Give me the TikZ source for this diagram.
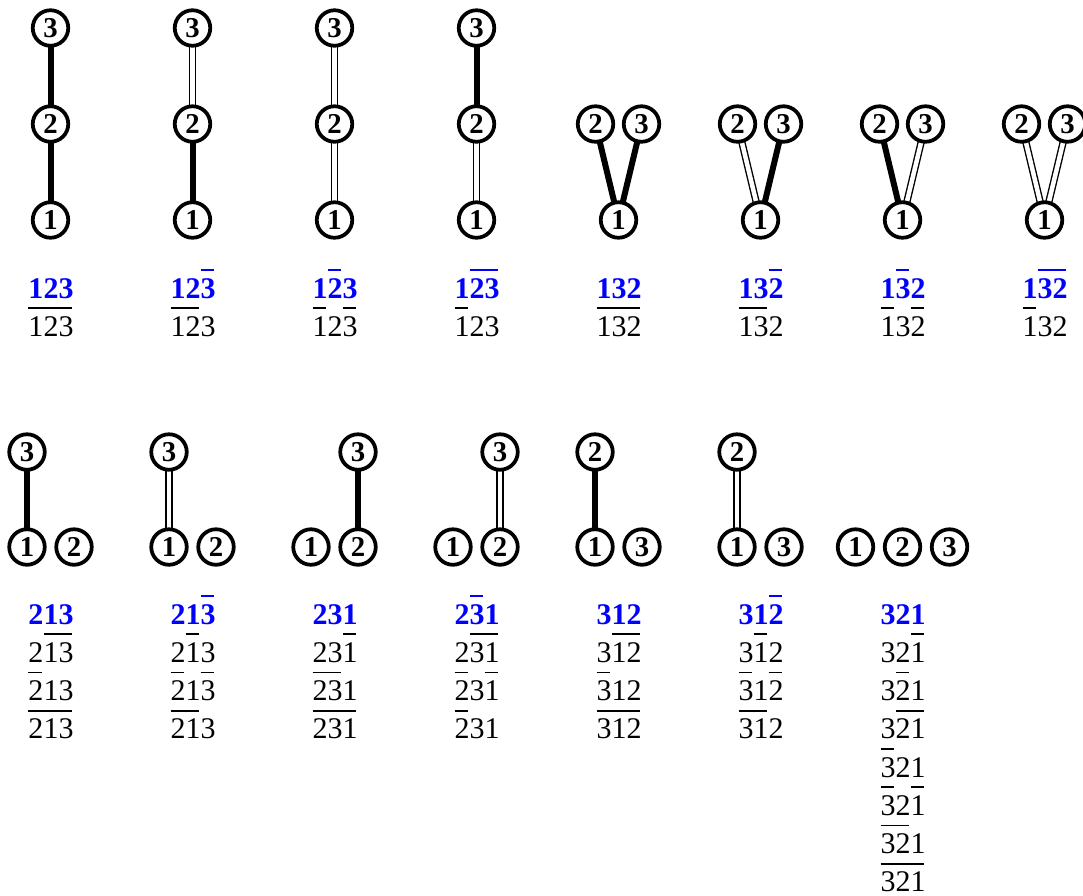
\documentclass[tikz,border=0pt]{standalone}
\usepackage{fontspec}
\setmainfont{Liberation Serif}
\usetikzlibrary{backgrounds}
\newsavebox\obbox
\newcommand\ob[1]{\sbox\obbox{#1}\rlap{\raisebox{10.9pt}{\rule{\dimexpr\wd\obbox-0.5pt\relax}{0.7pt}}}\usebox\obbox}
\newcommand\bl[1]{\hbox{\color{blue}\bfseries #1}}
\newcommand\bk[1]{\hbox{#1}}
\newcommand\stk[1]{\vtop{\baselineskip=15.3pt\lineskiplimit=-20pt #1}}
\tikzset{
  vert/.style={circle,draw,line width=1.5pt,fill=white,minimum size=14.2pt,inner sep=0pt,font=\fontsize{11.5}{11.5}\selectfont\bfseries},
  tk/.style={line width=2.4pt},
  dbl/.style={line width=0.55pt,double=white,double distance=1.8pt},
  lab/.style={anchor=base west,inner sep=0pt,font=\fontsize{12}{15.3}\selectfont}
}
\begin{document}
\begin{tikzpicture}[x=0.4pt,y=-0.4pt]
\useasboundingbox (0,0) rectangle (1083,895);
% ---- top row: chains
\node[vert] (a3) at (50.5,28) {3}; \node[vert] (a2) at (50.5,124) {2}; \node[vert] (a1) at (50.5,220) {1};
\node[vert] (b3) at (192.5,28) {3}; \node[vert] (b2) at (192.5,124) {2}; \node[vert] (b1) at (192.5,220) {1};
\node[vert] (c3) at (334.5,28) {3}; \node[vert] (c2) at (334.5,124) {2}; \node[vert] (c1) at (334.5,220) {1};
\node[vert] (d3) at (476.5,28) {3}; \node[vert] (d2) at (476.5,124) {2}; \node[vert] (d1) at (476.5,220) {1};
% V shapes
\node[vert] (e2) at (595.5,124) {2}; \node[vert] (e3) at (641.5,124) {3}; \node[vert] (e1) at (618.5,220) {1};
\node[vert] (f2) at (737.5,124) {2}; \node[vert] (f3) at (783.5,124) {3}; \node[vert] (f1) at (760.5,220) {1};
\node[vert] (g2) at (879.5,124) {2}; \node[vert] (g3) at (925.5,124) {3}; \node[vert] (g1) at (902.5,220) {1};
\node[vert] (h2) at (1021.5,124) {2}; \node[vert] (h3) at (1067.5,124) {3}; \node[vert] (h1) at (1044.5,220) {1};
% ---- bottom row
\node[vert] (i3) at (27,452) {3}; \node[vert] (i1) at (27,547) {1}; \node[vert] (i2) at (74,547) {2};
\node[vert] (j3) at (169,452) {3}; \node[vert] (j1) at (169,547) {1}; \node[vert] (j2) at (216,547) {2};
\node[vert] (k1) at (311,547) {1}; \node[vert] (k2) at (358,547) {2}; \node[vert] (k3) at (358,452) {3};
\node[vert] (l1) at (453,547) {1}; \node[vert] (l2) at (500,547) {2}; \node[vert] (l3) at (500,452) {3};
\node[vert] (m2) at (595,452) {2}; \node[vert] (m1) at (595,547) {1}; \node[vert] (m3) at (642,547) {3};
\node[vert] (n2) at (737,452) {2}; \node[vert] (n1) at (737,547) {1}; \node[vert] (n3) at (784,547) {3};
\node[vert] (o1) at (855.5,547) {1}; \node[vert] (o2) at (902.5,547) {2}; \node[vert] (o3) at (949.5,547) {3};
\begin{pgfonlayer}{background}
\draw[tk] (a3.center) -- (a2.center); \draw[tk] (a2.center) -- (a1.center);
\draw[dbl] (b3.center) -- (b2.center); \draw[tk] (b2.center) -- (b1.center);
\draw[dbl] (c3.center) -- (c2.center); \draw[dbl] (c2.center) -- (c1.center);
\draw[tk] (d3.center) -- (d2.center); \draw[dbl] (d2.center) -- (d1.center);
\draw[tk] (e2.center) -- (e1.center); \draw[tk] (e3.center) -- (e1.center);
\draw[dbl] (f2.center) -- (f1.center); \draw[tk] (f3.center) -- (f1.center);
\draw[tk] (g2.center) -- (g1.center); \draw[dbl] (g3.center) -- (g1.center);
\draw[dbl] (h2.center) -- (h1.center); \draw[dbl] (h3.center) -- (h1.center);
\draw[tk] (i3.center) -- (i1.center);
\draw[dbl] (j3.center) -- (j1.center);
\draw[tk] (k3.center) -- (k2.center);
\draw[dbl] (l3.center) -- (l2.center);
\draw[tk] (m2.center) -- (m1.center);
\draw[dbl] (n2.center) -- (n1.center);
\end{pgfonlayer}
% ---- labels top
\node[lab] (la) at (28,298) {\stk{\bl{123}\bk{\ob{123}}}};
\node[lab] (lb) at (170,298) {\stk{\bl{12\ob{3}}\bk{\ob{12}3}}};
\node[lab] (lc) at (312,298) {\stk{\bl{1\ob{2}3}\bk{\ob{1}2\ob{3}}}};
\node[lab] (ld) at (454,298) {\stk{\bl{1\ob{23}}\bk{\ob{1}23}}};
\node[lab] (le) at (596,298) {\stk{\bl{132}\bk{\ob{132}}}};
\node[lab] (lf) at (738,298) {\stk{\bl{13\ob{2}}\bk{\ob{13}2}}};
\node[lab] (lg) at (880,298) {\stk{\bl{1\ob{3}2}\bk{\ob{1}3\ob{2}}}};
\node[lab] (lh) at (1022,298) {\stk{\bl{1\ob{32}}\bk{\ob{1}32}}};
% ---- labels bottom
\node[lab] (li) at (28,624) {\stk{\bl{213}\bk{2\ob{13}}\bk{\ob{2}13}\bk{\ob{213}}}};
\node[lab] (lj) at (170,624) {\stk{\bl{21\ob{3}}\bk{2\ob{1}3}\bk{\ob{2}1\ob{3}}\bk{\ob{21}3}}};
\node[lab] (lk) at (312,624) {\stk{\bl{231}\bk{23\ob{1}}\bk{\ob{23}1}\bk{\ob{231}}}};
\node[lab] (ll) at (454,624) {\stk{\bl{2\ob{3}1}\bk{2\ob{31}}\bk{\ob{2}3\ob{1}}\bk{\ob{2}31}}};
\node[lab] (lm) at (596,624) {\stk{\bl{312}\bk{3\ob{12}}\bk{\ob{3}12}\bk{\ob{312}}}};
\node[lab] (ln) at (738,624) {\stk{\bl{31\ob{2}}\bk{3\ob{1}2}\bk{\ob{3}1\ob{2}}\bk{\ob{31}2}}};
\node[lab] (lo) at (880,624) {\stk{\bl{321}\bk{32\ob{1}}\bk{3\ob{2}1}\bk{3\ob{21}}\bk{\ob{3}21}\bk{\ob{3}2\ob{1}}\bk{\ob{32}1}\bk{\ob{321}}}};
\end{tikzpicture}
\end{document}
